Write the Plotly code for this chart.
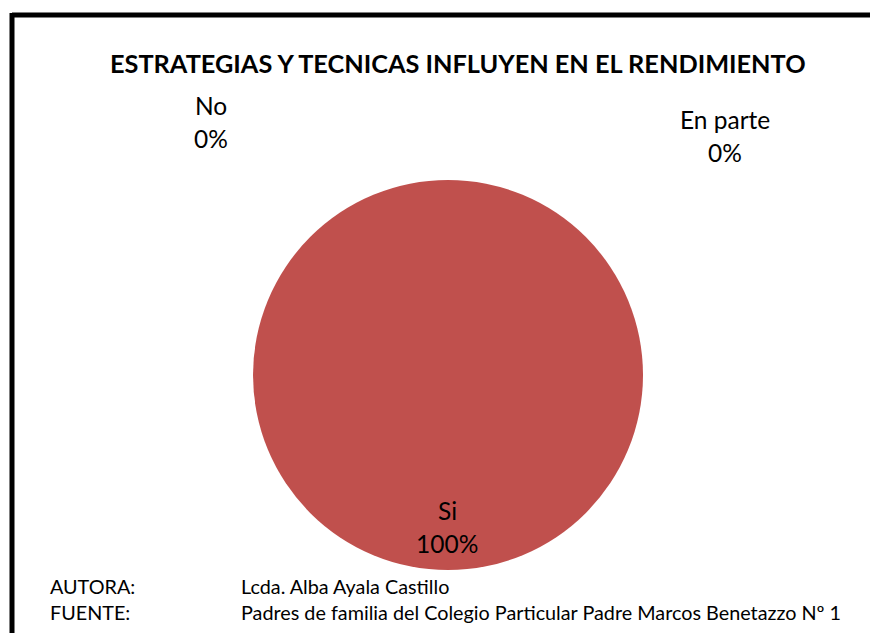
import plotly.graph_objects as go

# Survey answers
categories = ["No", "Si", "En parte"]
counts = [0, 100, 0]

title_text = "ESTRATEGIAS Y TECNICAS INFLUYEN EN EL RENDIMIENTO"
footer_labels = ["AUTORA:", "FUENTE:"]
footer_values = ["Lcda. Alba Ayala Castillo",
                 "Padres de familia del Colegio Particular Padre Marcos Benetazzo Nº 1"]

W, H = 870, 633
FONT = "Lato, Open Sans, sans-serif"

total = sum(counts)
pcts = [round(100 * c / total) for c in counts]


def px(x):
    return x / W


def py(y):
    return 1 - y / H


fig = go.Figure(
    go.Pie(
        labels=categories,
        values=counts,
        sort=False,
        direction="clockwise",
        rotation=0,
        marker=dict(colors=["#4F81BD", "#C0504D", "#9BBB59"],
                    line=dict(width=0)),
        textinfo="none",
        hoverinfo="label+percent",
        showlegend=False,
        domain=dict(x=[px(253), px(643)], y=[py(570), py(180)]),
    )
)

# Data labels (category name above its percentage)
label_pos = {"No": (211, 105), "En parte": (725, 119), "Si": (447, 510)}
LINE_GAP = 33
annotations = []
for cat, p in zip(categories, pcts):
    x, y = label_pos[cat]
    for k, line in enumerate([cat, f"{p}%"]):
        annotations.append(dict(
            x=px(x), y=py(y + k * LINE_GAP), xref="paper", yref="paper",
            text=line, showarrow=False,
            font=dict(family=FONT, size=24.5, color="#000000"),
            xanchor="center", yanchor="middle",
        ))

# Title
annotations.append(dict(
    x=px(458), y=py(63), xref="paper", yref="paper",
    text=f"<b>{title_text}</b>", showarrow=False,
    font=dict(family=FONT, size=25.3, color="#000000"),
    xanchor="center", yanchor="middle",
))

# Footer credits
for i, (lab, val) in enumerate(zip(footer_labels, footer_values)):
    yy = 586 + i * 26
    annotations.append(dict(
        x=px(48), y=py(yy), xref="paper", yref="paper", text=lab,
        showarrow=False, font=dict(family=FONT, size=19.8, color="#000000"),
        xanchor="left", yanchor="middle", align="left",
    ))
    annotations.append(dict(
        x=px(239), y=py(yy), xref="paper", yref="paper", text=val,
        showarrow=False, font=dict(family=FONT, size=19.8, color="#000000"),
        xanchor="left", yanchor="middle", align="left",
    ))

# Frame along the top and left edges
shapes = [
    dict(type="line", xref="paper", yref="paper",
         x0=px(12), y0=py(15), x1=1.01, y1=py(15),
         line=dict(color="#000000", width=5)),
    dict(type="line", xref="paper", yref="paper",
         x0=px(12), y0=py(13), x1=px(12), y1=-0.01,
         line=dict(color="#000000", width=5)),
]

fig.update_layout(
    width=W, height=H,
    margin=dict(l=0, r=0, t=0, b=0),
    paper_bgcolor="#FFFFFF",
    plot_bgcolor="#FFFFFF",
    annotations=annotations,
    shapes=shapes,
)

fig.write_html("out.html")
